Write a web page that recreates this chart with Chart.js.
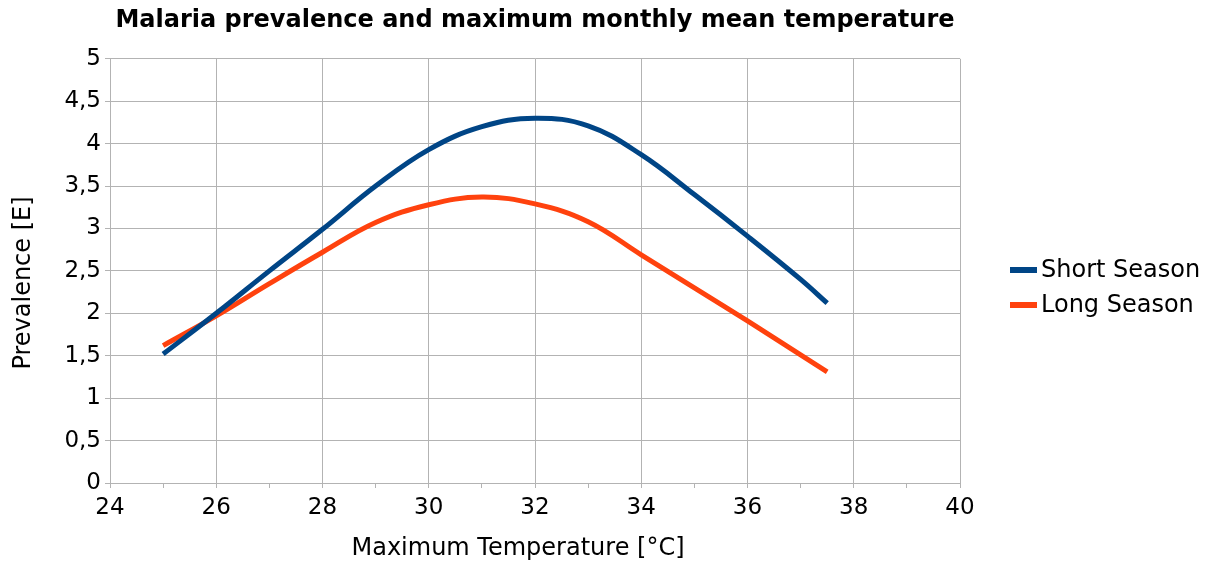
<!DOCTYPE html>
<html>
<head>
<meta charset="utf-8">
<script src="https://cdn.jsdelivr.net/npm/chart.js@4/dist/chart.umd.min.js"></script>
<style>
  html, body { margin: 0; padding: 0; background: #fff; }
  #wrap { width: 1210px; height: 562px; }
</style>
</head>
<body>
<div id="wrap"><canvas id="malariaChart" width="1210" height="562"></canvas></div>
<script>
// --- data ---
const temps = [25, 26, 27, 28, 29, 30, 31, 32, 33, 34, 35, 36, 37, 37.5];
const shortSeason = [1.52, 2.0, 2.5, 2.99, 3.5, 3.93, 4.2, 4.3, 4.21, 3.87, 3.4, 2.91, 2.4, 2.12];
const longSeason = [1.62, 1.97, 2.35, 2.72, 3.07, 3.28, 3.37, 3.29, 3.08, 2.69, 2.3, 1.91, 1.51, 1.31];
const seriesNames = ['Short Season', 'Long Season'];
const xTitle = 'Maximum Temperature [°C]';
const yTitle = 'Prevalence [E]';

const blue = '#004586';
const orange = '#ff420e';
const gridColor = '#b3b3b3';
const ink = '#000000';
const fontFamily = '"DejaVu Sans", Verdana, sans-serif';

const toPoints = vals => temps.map((t, i) => ({ x: t, y: vals[i] }));

// legend + axis titles placed where the office chart puts them
const sideLegend = {
    id: 'sideLegend',
    afterDraw(chart) {
        const ctx = chart.ctx;
        const x0 = 1010, y0 = 270, gap = 35;
        ctx.save();
        ctx.font = '24px ' + fontFamily;
        ctx.textBaseline = 'middle';
        chart.data.datasets.forEach((ds, i) => {
            const y = y0 + i * gap;
            ctx.fillStyle = ds.borderColor;
            ctx.fillRect(x0, y - 3, 27, 6);
            ctx.fillStyle = ink;
            ctx.fillText(ds.label, x0 + 31, y + 1);
        });
        // axis titles
        ctx.textAlign = 'center';
        ctx.fillText(xTitle, 518, 549);
        ctx.translate(24, 283);
        ctx.rotate(-Math.PI / 2);
        ctx.fillText(yTitle, 0, 0);
        ctx.restore();
    }
};

new Chart(document.getElementById('malariaChart').getContext('2d'), {
    type: 'line',
    data: {
        datasets: [
            { label: seriesNames[0], data: toPoints(shortSeason), borderColor: blue, backgroundColor: blue,
              borderWidth: 5, pointRadius: 0, tension: 0.4, borderCapStyle: 'butt' },
            { label: seriesNames[1], data: toPoints(longSeason), borderColor: orange, backgroundColor: orange,
              borderWidth: 5, pointRadius: 0, tension: 0.4, borderCapStyle: 'butt' }
        ]
    },
    options: {
        responsive: false,
        animation: false,
        layout: { padding: { left: 4, right: 250, top: 0, bottom: 0 } },
        scales: {
            x: {
                type: 'linear', min: 24, max: 40,
                afterFit: s => { s.height = 79; },
                ticks: {
                    stepSize: 1, autoSkip: false, maxRotation: 0, padding: 6,
                    color: ink, font: { family: fontFamily, size: 23 },
                    callback: v => (v % 2 === 0 ? String(v) : '')
                },
                grid: {
                    color: c => (c.tick && c.tick.value % 2 === 0 ? gridColor : 'rgba(0,0,0,0)'),
                    tickColor: gridColor, tickLength: 5
                },
                border: { color: gridColor }
            },
            y: {
                min: 0, max: 5,
                afterFit: s => { s.width = 106; },
                ticks: {
                    stepSize: 0.5, padding: 4, color: ink, font: { family: fontFamily, size: 23 },
                    callback: v => String(v).replace('.', ',')
                },
                grid: { color: gridColor, tickColor: gridColor, tickLength: 5 },
                border: { color: gridColor }
            }
        },
        plugins: {
            legend: { display: false },
            tooltip: { enabled: false },
            title: {
                display: true, fullSize: false,
                text: 'Malaria prevalence and maximum monthly mean temperature',
                color: ink, font: { family: fontFamily, size: 24, weight: 'bold' },
                padding: { top: 6, bottom: 24 }
            }
        }
    },
    plugins: [sideLegend]
});
</script>
</body>
</html>
